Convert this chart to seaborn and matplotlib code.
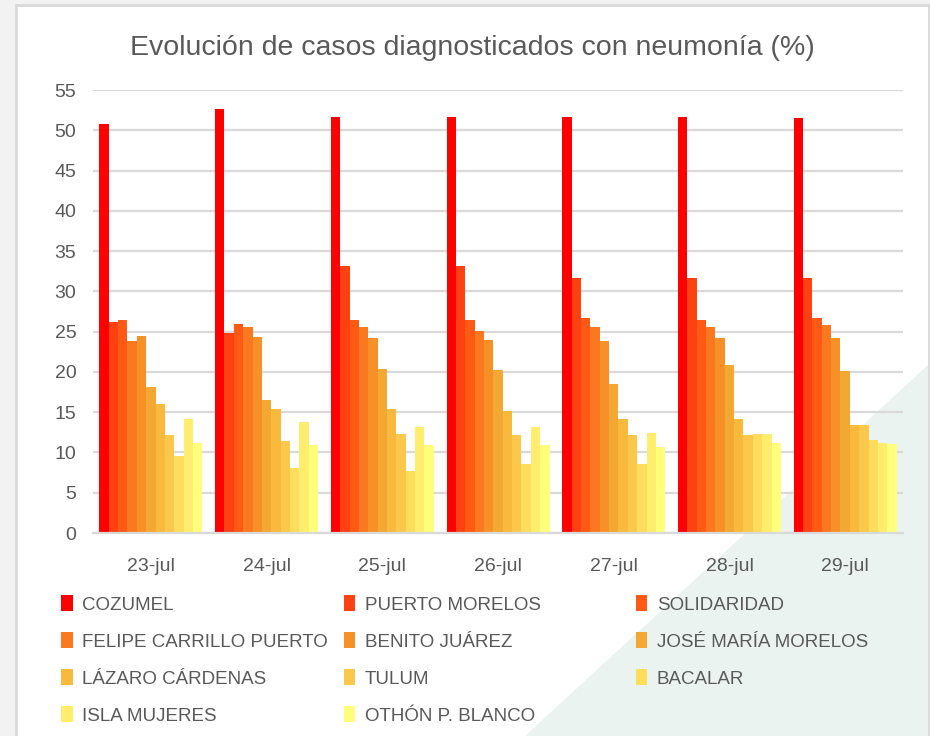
import pandas as pd
import seaborn as sns
import matplotlib.pyplot as plt
from matplotlib.patches import Polygon, Patch, Rectangle

# datos
fechas = ['23-jul', '24-jul', '25-jul', '26-jul', '27-jul', '28-jul', '29-jul']
municipios = ['COZUMEL', 'PUERTO MORELOS', 'SOLIDARIDAD', 'FELIPE CARRILLO PUERTO',
              'BENITO JUÁREZ', 'JOSÉ MARÍA MORELOS', 'LÁZARO CÁRDENAS', 'TULUM',
              'BACALAR', 'ISLA MUJERES', 'OTHÓN P. BLANCO']

cozumel = [50.8, 52.6, 51.7, 51.7, 51.7, 51.7, 51.5]
puerto_morelos = [26.2, 24.8, 33.2, 33.2, 31.6, 31.6, 31.6]
solidaridad = [26.4, 25.9, 26.5, 26.5, 26.7, 26.4, 26.7]
felipe_carrillo = [23.9, 25.6, 25.6, 25.1, 25.6, 25.6, 25.8]
benito_juarez = [24.5, 24.3, 24.2, 24.0, 23.9, 24.2, 24.2]
jose_maria = [18.1, 16.5, 20.4, 20.3, 18.5, 20.8, 20.1]
lazaro_cardenas = [16.0, 15.4, 15.4, 15.2, 14.1, 14.1, 13.4]
tulum = [12.2, 11.4, 12.3, 12.2, 12.2, 12.2, 13.4]
bacalar = [9.5, 8.1, 7.7, 8.6, 8.6, 12.3, 11.5]
isla_mujeres = [14.1, 13.8, 13.1, 13.1, 12.4, 12.3, 11.2]
othon_blanco = [11.2, 10.9, 10.9, 10.9, 10.7, 11.2, 11.1]

series = [cozumel, puerto_morelos, solidaridad, felipe_carrillo, benito_juarez,
          jose_maria, lazaro_cardenas, tulum, bacalar, isla_mujeres, othon_blanco]

colores = ['#FF0000', '#FF4010', '#FF5A14', '#FA7820', '#F89028', '#F2A832',
           '#F8B93C', '#FCC84C', '#FEDC5C', '#FFEE6E', '#FFFF7C']

filas = []
for m, vals in zip(municipios, series):
    for f, v in zip(fechas, vals):
        filas.append({'fecha': f, 'municipio': m, 'valor': v})
df = pd.DataFrame(filas)

sns.set_style('white')
plt.rcParams['font.family'] = ['Liberation Sans', 'DejaVu Sans']
gris = '#595959'

fig = plt.figure(figsize=(9.3, 7.36), dpi=100)
fig.patch.set_facecolor('#F2F2F2')

# fondo blanco con marco gris y la franja verde diagonal
fig.patches.append(Rectangle((16 / 930, -0.01), 913 / 930, 1.01 - 5 / 736,
                             transform=fig.transFigure, facecolor='white',
                             edgecolor='#D9D9D9', linewidth=2, zorder=-10))
fig.patches.append(Polygon([[525 / 930, 0.0], [928 / 930, 0.0], [928 / 930, 1 - 365 / 736]],
                           closed=True, transform=fig.transFigure,
                           facecolor='#EAF3EF', edgecolor='none', zorder=-9))

ax = fig.add_axes([0.1, 0.2758, 0.871, 0.6019])
ax.patch.set_alpha(0)

sns.barplot(data=df, x='fecha', y='valor', hue='municipio', hue_order=municipios,
            palette=colores, width=0.89, gap=0, saturation=1, ax=ax, legend=False,
            errorbar=None)

for b in ax.patches:
    b.set_edgecolor('none')

ax.set_ylim(0, 55)
ax.set_xlim(-0.5, 6.5)
ax.set_yticks(range(0, 56, 5))
ax.yaxis.grid(True, color='#D9D9D9', linewidth=1.6)
ax.set_axisbelow(True)
for s in ['top', 'right', 'left']:
    ax.spines[s].set_visible(False)
ax.spines['bottom'].set_color('#D9D9D9')
ax.spines['bottom'].set_linewidth(1.6)

ax.set_xticks([i - 0.5 for i in range(8)], minor=True)
ax.tick_params(axis='x', which='minor', length=9, color='#D9D9D9', width=1.6)
ax.tick_params(axis='x', which='major', length=0, pad=18, labelsize=14, labelcolor=gris)
ax.tick_params(axis='y', length=0, pad=12, labelsize=14, labelcolor=gris)
ax.set_xlabel('')
ax.set_ylabel('')

fig.text(0.508, 0.935, 'Evolución de casos diagnosticados con neumonía (%)',
         ha='center', va='center', fontsize=20.5, color=gris)

# leyenda en tres columnas, orden por filas
xs = [0.066, 0.370, 0.684]
for c in range(3):
    idx = list(range(c, len(municipios), 3))
    handles = [Patch(facecolor=colores[i], edgecolor='none') for i in idx]
    labels = [municipios[i] for i in idx]
    fig.legend(handles, labels, loc='upper left', bbox_to_anchor=(xs[c], 0.191),
               frameon=False, fontsize=13.5, labelcolor=gris, handlelength=0.6,
               handleheight=0.9, handletextpad=0.5, labelspacing=1.0,
               borderpad=0, borderaxespad=0)

plt.savefig('out.png', dpi=100)
